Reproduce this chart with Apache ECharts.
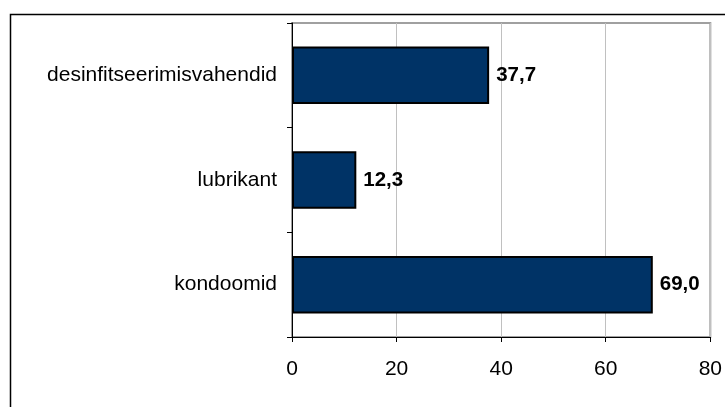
<!DOCTYPE html>
<html>
<head>
<meta charset="utf-8">
<script src="https://cdn.jsdelivr.net/npm/echarts@6/dist/echarts.min.js"></script>
<style>
html,body{margin:0;padding:0;background:#fff;}
#c{width:725px;height:407px;}
</style>
</head>
<body>
<div id="c"></div>
<script>
// categories listed bottom-to-top (category axis order)
const categories = ['kondoomid', 'lubrikant', 'desinfitseerimisvahendid'];
const values = [69.0, 12.3, 37.7];
const xTicks = [0, 20, 40, 60, 80];

const chart = echarts.init(document.getElementById('c'), null, {renderer: 'canvas'});
const font = '"Liberation Sans", Arial, sans-serif';
chart.setOption({
  animation: false,
  backgroundColor: '#fff',
  graphic: [{
    type: 'rect',
    shape: {x: 10.5, y: 14.5, width: 740, height: 420},
    style: {fill: 'none', stroke: '#000', lineWidth: 1.5},
    silent: true
  }],
  grid: {
    left: 292, right: 13, top: 23, bottom: 70,
    show: true, borderColor: '#a0a0a0', borderWidth: 2, backgroundColor: 'transparent'
  },
  xAxis: {
    type: 'value',
    min: xTicks[0], max: xTicks[xTicks.length - 1], interval: 20,
    axisLine: {show: true, onZero: false, lineStyle: {color: '#000', width: 1}},
    axisTick: {show: true, length: 5, lineStyle: {color: '#000'}},
    axisLabel: {color: '#000', fontFamily: font, fontSize: 21, margin: 22},
    splitLine: {show: true, lineStyle: {color: '#c0c0c0', width: 1}}
  },
  yAxis: {
    type: 'category',
    data: categories,
    axisLine: {show: true, lineStyle: {color: '#000', width: 1}},
    axisTick: {show: true, length: 5, lineStyle: {color: '#000'}},
    axisLabel: {color: '#000', fontFamily: font, fontSize: 21, margin: 15}
  },
  series: [{
    type: 'bar',
    data: values,
    barWidth: '55%',
    itemStyle: {color: '#003366', borderColor: '#000', borderWidth: 2},
    label: {
      show: true, position: 'right', distance: 7,
      color: '#000', fontFamily: font, fontSize: 20.5, fontWeight: 'bold',
      formatter: p => p.value.toFixed(1).replace('.', ',')
    }
  }]
});
</script>
</body>
</html>
